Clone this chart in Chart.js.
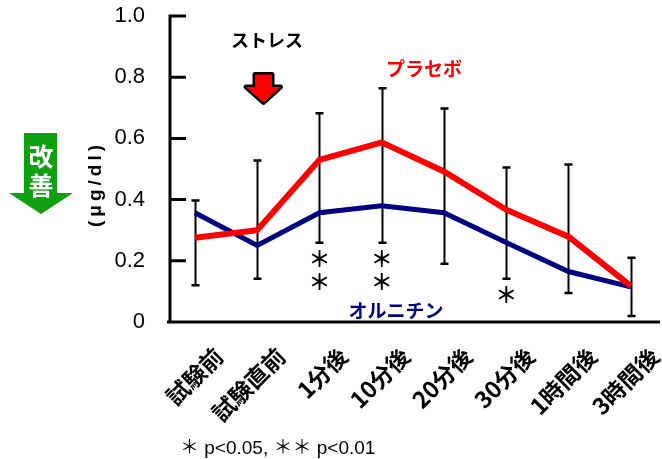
<!DOCTYPE html>
<html><head><meta charset="utf-8">
<script src="https://cdn.jsdelivr.net/npm/chart.js@4"></script>
<style>html,body{margin:0;padding:0;background:#fff}</style>
</head><body>
<canvas id="c" width="662" height="459"></canvas>
<script>
const categories = ['試験前','試験直前','1分後','10分後','20分後','30分後','1時間後','3時間後'];
const placebo   = [0.275, 0.300, 0.530, 0.587, 0.492, 0.367, 0.279, 0.118];
const ornithine = [0.357, 0.250, 0.357, 0.380, 0.357, 0.260, 0.165, 0.115];
const errHigh   = [0.397, 0.528, 0.682, 0.764, 0.698, 0.505, 0.515, 0.210];
const errLow    = [0.120, 0.141, 0.259, 0.259, 0.190, 0.141, 0.095, 0.020];
const sigMarks  = [0, 0, 2, 2, 0, 1, 0, 0];
const yTicks    = [0, 0.2, 0.4, 0.6, 0.8, 1.0];
const seriesNames = ['プラセボ', 'オルニチン'];
const stressLabel = 'ストレス';
const improveLabel = ['改', '善'];
const yTitle = '(μg/dl)';
const footnote = '＊ p<0.05, ＊＊ p<0.01';

const JP = '"Noto Sans CJK JP", sans-serif';
const LAT = '"Liberation Sans", Arial, "Noto Sans CJK JP", sans-serif';

const deco = {
  id: 'deco',
  beforeDatasetsDraw(chart) {
    const {ctx, scales: {x, y}} = chart;
    ctx.save();
    ctx.strokeStyle = '#000';
    categories.forEach((c, i) => {
      const px = Math.round(x.getPixelForValue(i)) + 0.5;
      const t = y.getPixelForValue(errHigh[i]), b = y.getPixelForValue(errLow[i]);
      ctx.lineWidth = 2;
      ctx.beginPath();
      ctx.moveTo(px, t); ctx.lineTo(px, b);
      ctx.stroke();
      ctx.lineWidth = 2.5;
      ctx.beginPath();
      ctx.moveTo(px - 4, t); ctx.lineTo(px + 4, t);
      ctx.moveTo(px - 4, b); ctx.lineTo(px + 4, b);
      ctx.stroke();
    });
    ctx.restore();
  },
  afterDraw(chart) {
    const {ctx, scales: {x, y}, chartArea: ca} = chart;
    ctx.save();
    // axes
    ctx.strokeStyle = '#000';
    ctx.lineWidth = 3;
    const y0 = y.getPixelForValue(0);
    ctx.beginPath();
    ctx.moveTo(ca.left, y.getPixelForValue(1.0) - 1.5);
    ctx.lineTo(ca.left, y0 + 1.5);
    ctx.moveTo(ca.left - 3, y0);
    ctx.lineTo(ca.right, y0);
    yTicks.forEach(v => {
      const py = y.getPixelForValue(v);
      ctx.moveTo(ca.left, py); ctx.lineTo(ca.left + 16, py);
    });
    ctx.stroke();

    // significance marks
    ctx.fillStyle = '#000';
    ctx.font = 'bold 22px ' + JP;
    ctx.textAlign = 'center';
    ctx.textBaseline = 'middle';
    sigMarks.forEach((n, i) => {
      const px = x.getPixelForValue(i);
      const b = y.getPixelForValue(errLow[i]);
      for (let k = 0; k < n; k++) ctx.fillText('＊', px, b + 16 + k * 23);
    });

    // x labels
    ctx.font = 'bold 23px ' + JP;
    ctx.textAlign = 'right';
    ctx.textBaseline = 'middle';
    categories.forEach((c, i) => {
      const px = x.getPixelForValue(i);
      ctx.save();
      ctx.translate(px + 24, 352);
      ctx.rotate(-Math.PI / 4);
      ctx.fillText(c, 0, 0);
      ctx.restore();
    });

    // y title
    ctx.save();
    ctx.translate(96, 186);
    ctx.rotate(-Math.PI / 2);
    ctx.font = 'bold 19px ' + LAT;
    ctx.textAlign = 'center';
    ctx.textBaseline = 'middle';
    try { ctx.letterSpacing = '4px'; } catch (e) {}
    ctx.fillText(yTitle, 2, 0);
    ctx.restore();

    // stress label + arrow
    ctx.font = 'bold 18px ' + JP;
    ctx.textAlign = 'center';
    ctx.textBaseline = 'middle';
    ctx.fillStyle = '#000';
    ctx.fillText(stressLabel, 267, 40);
    ctx.beginPath();
    ctx.moveTo(255, 74.5); ctx.lineTo(272, 74.5); ctx.lineTo(272, 87);
    ctx.lineTo(280.5, 87); ctx.lineTo(263.5, 102.5); ctx.lineTo(246, 87);
    ctx.lineTo(255, 87); ctx.closePath();
    ctx.fillStyle = '#ff0000';
    ctx.lineWidth = 5;
    ctx.lineJoin = 'round';
    ctx.strokeStyle = '#000';
    ctx.stroke();
    ctx.fill();

    // series labels
    ctx.font = 'bold 19px ' + JP;
    ctx.fillStyle = '#ff0000';
    ctx.fillText(seriesNames[0], 424, 69);
    ctx.fillStyle = '#000080';
    ctx.fillText(seriesNames[1], 396, 311);

    // improvement arrow
    ctx.beginPath();
    ctx.moveTo(24, 133); ctx.lineTo(57, 133); ctx.lineTo(57, 193);
    ctx.lineTo(73, 193); ctx.lineTo(41, 214); ctx.lineTo(9, 193);
    ctx.lineTo(24, 193); ctx.closePath();
    ctx.fillStyle = '#0fa00f';
    ctx.fill();
    ctx.fillStyle = '#fff';
    ctx.font = 'bold 25px ' + JP;
    ctx.fillText(improveLabel[0], 41, 156);
    ctx.fillText(improveLabel[1], 41, 185);

    // footnote
    ctx.fillStyle = '#000';
    ctx.font = '19px ' + LAT;
    ctx.textAlign = 'left';
    ctx.fillText(footnote, 180, 449);
    ctx.restore();
  }
};

new Chart(document.getElementById('c'), {
  type: 'line',
  data: {
    datasets: [
      { label: seriesNames[0], data: placebo.map((v, i) => ({x: i, y: v})),
        borderColor: '#ff0000', borderWidth: 6, pointRadius: 0, tension: 0, fill: false },
      { label: seriesNames[1], data: ornithine.map((v, i) => ({x: i, y: v})),
        borderColor: '#000080', borderWidth: 5, pointRadius: 0, tension: 0, fill: false }
    ]
  },
  options: {
    responsive: false,
    animation: false,
    events: [],
    layout: { padding: { left: 0, top: 16, right: 2, bottom: 137 } },
    plugins: { legend: { display: false }, tooltip: { enabled: false } },
    scales: {
      x: { type: 'linear', min: -0.4, max: 7.47, display: false },
      y: {
        min: 0, max: 1.0,
        afterFit(scale) { scale.width = 170; scale.paddingTop = 0; scale.paddingBottom = 0; },
        afterBuildTicks(scale) { scale.ticks = yTicks.map(v => ({value: v})); },
        grid: { display: false, drawTicks: false },
        border: { display: false },
        ticks: {
          padding: 25, color: '#000',
          font: { family: '"Liberation Sans", Arial, sans-serif', size: 22 },
          callback: v => v === 0 ? '0' : v.toFixed(1)
        }
      }
    }
  },
  plugins: [deco]
});
</script>
</body></html>
